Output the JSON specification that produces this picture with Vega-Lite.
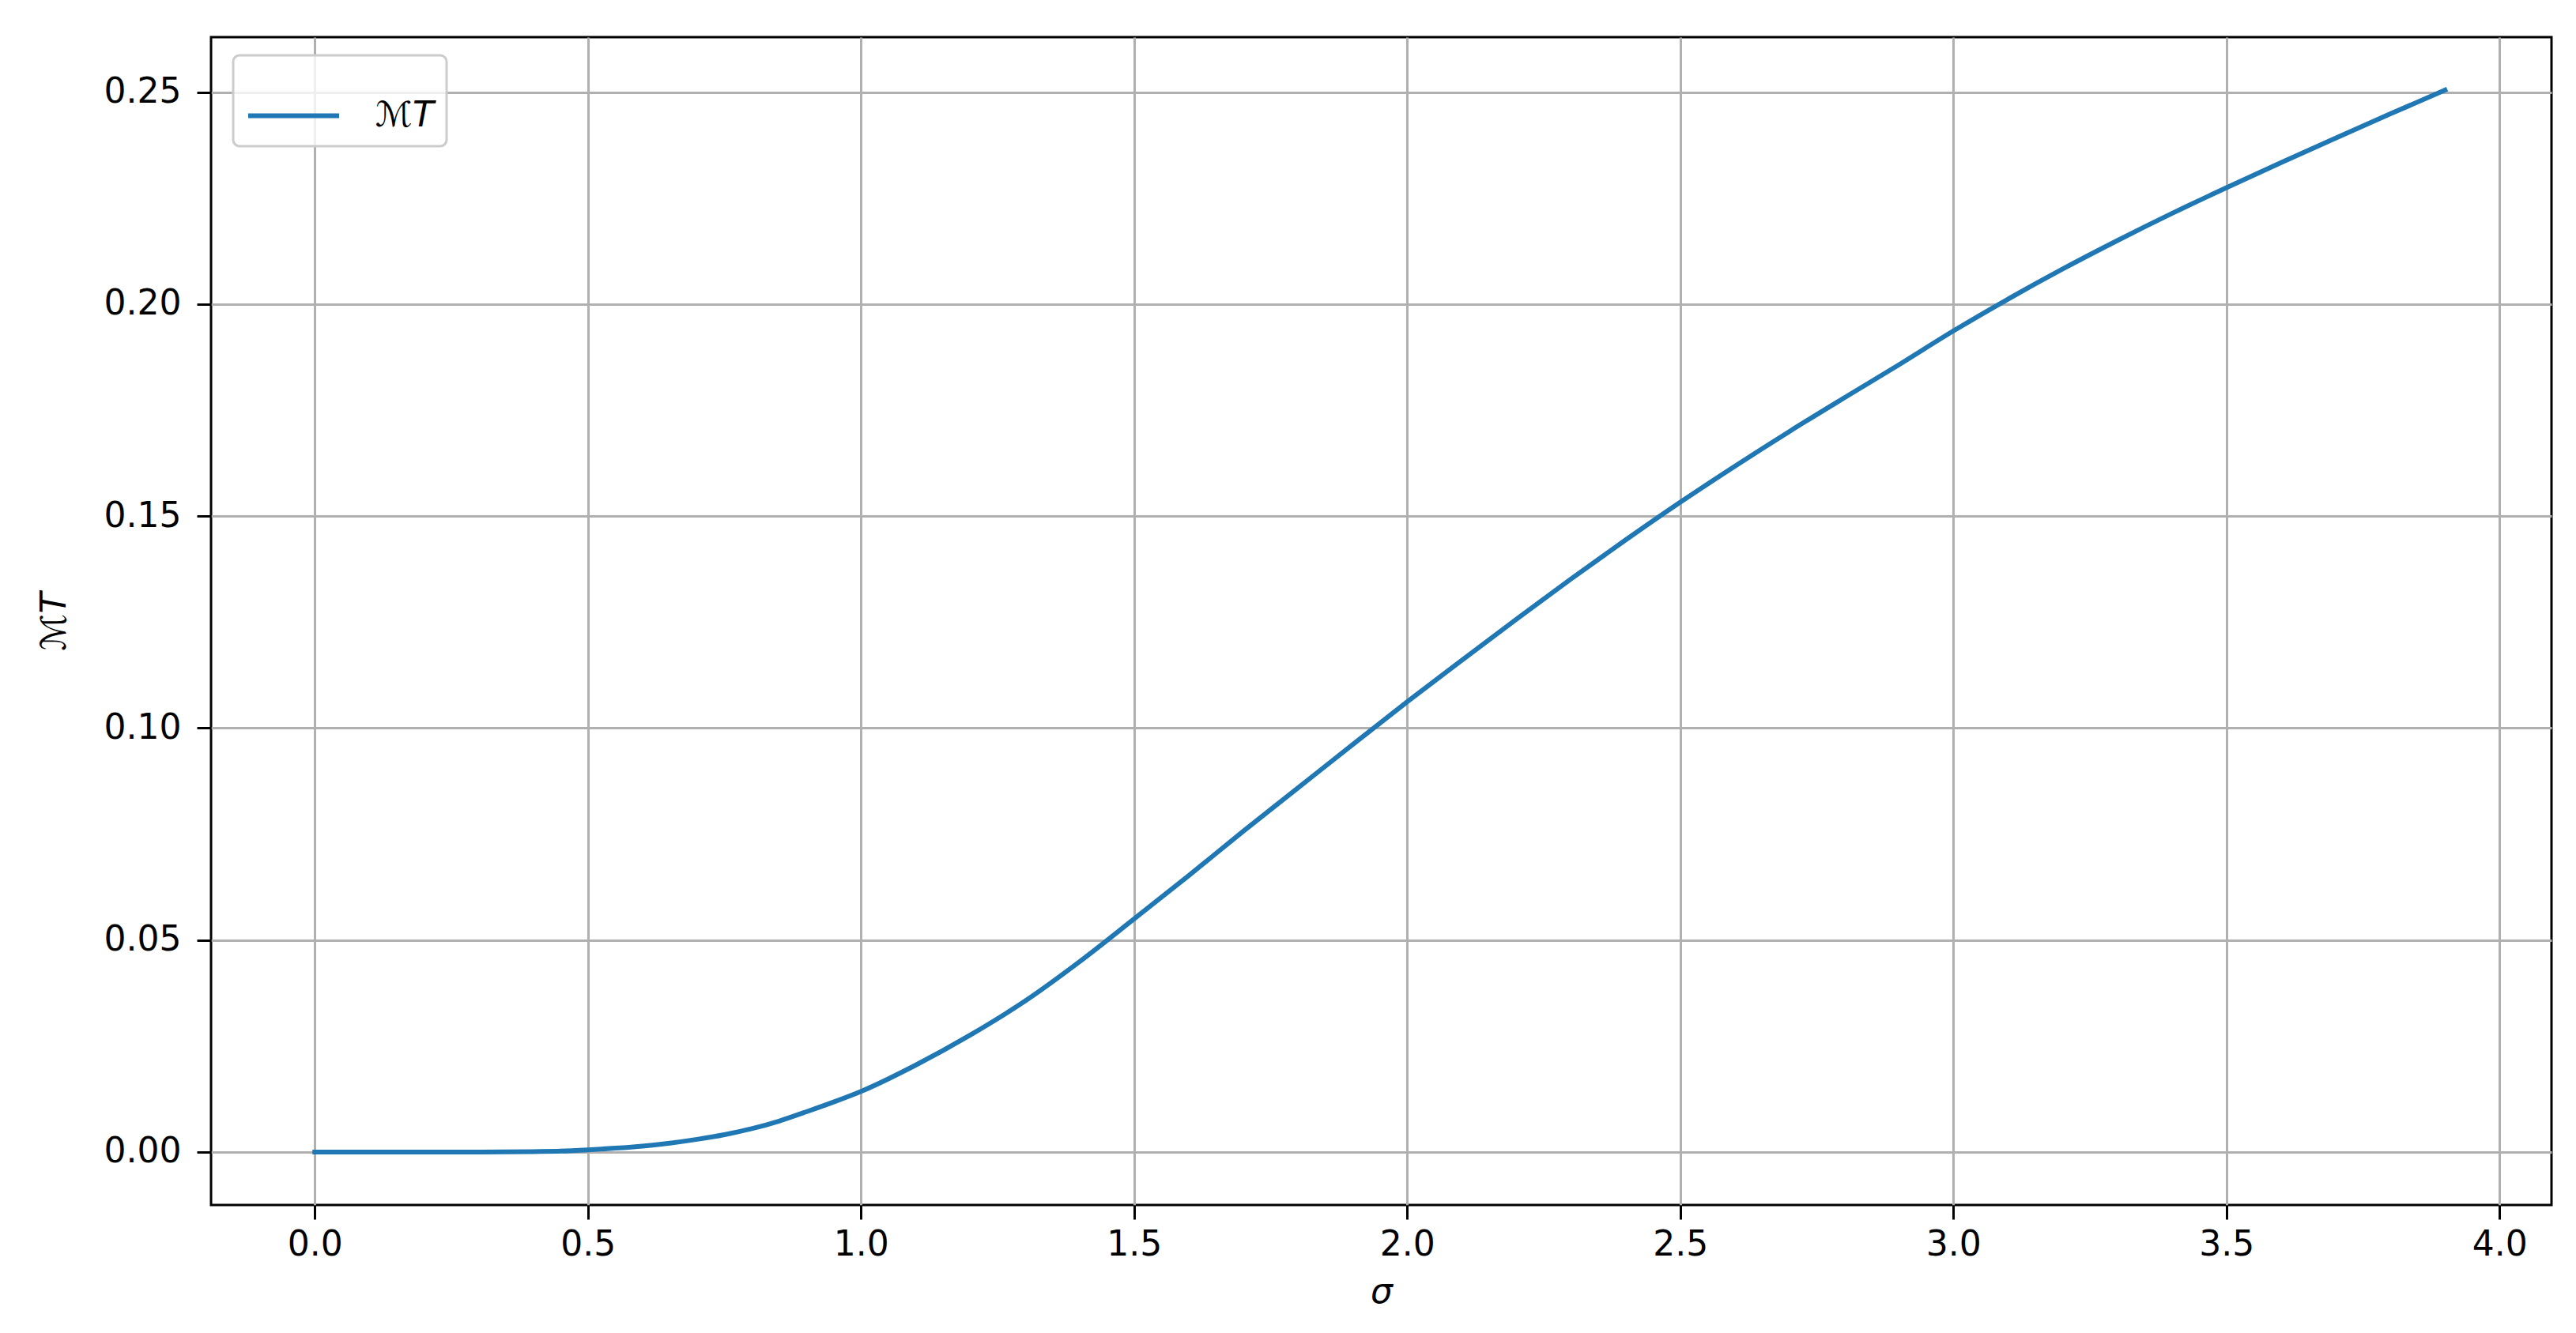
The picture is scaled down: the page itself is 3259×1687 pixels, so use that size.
{
  "$schema": "https://vega.github.io/schema/vega-lite/v6.json",
  "width": 2961,
  "height": 1478,
  "autosize": {"type": "none"},
  "padding": {"left": 267, "top": 47, "right": 31, "bottom": 162},
  "background": "white",
  "config": {
    "view": {"stroke": "black", "strokeWidth": 3},
    "font": "DejaVu Sans",
    "axis": {
      "grid": true,
      "gridColor": "#b0b0b0",
      "gridWidth": 3,
      "domain": false,
      "ticks": true,
      "tickColor": "black",
      "tickSize": 18,
      "tickWidth": 3,
      "labelFont": "DejaVu Sans",
      "labelFontSize": 44,
      "labelColor": "black",
      "titleFont": "DejaVu Sans",
      "titleFontSize": 44,
      "titleFontStyle": "italic",
      "titleFontWeight": "normal",
      "titleColor": "black"
    }
  },
  "data": {
    "values": [
      {"sigma": 0.0, "M": 0.0},
      {"sigma": 0.1, "M": 0.0},
      {"sigma": 0.2, "M": 0.0},
      {"sigma": 0.3, "M": 0.0},
      {"sigma": 0.4, "M": 0.0001},
      {"sigma": 0.45, "M": 0.0002},
      {"sigma": 0.5, "M": 0.0005},
      {"sigma": 0.55, "M": 0.0009},
      {"sigma": 0.6, "M": 0.0014},
      {"sigma": 0.65, "M": 0.0021},
      {"sigma": 0.7, "M": 0.003},
      {"sigma": 0.75, "M": 0.0041},
      {"sigma": 0.8, "M": 0.0055},
      {"sigma": 0.85, "M": 0.0073},
      {"sigma": 0.9, "M": 0.0095},
      {"sigma": 0.95, "M": 0.0118},
      {"sigma": 1.0, "M": 0.0143},
      {"sigma": 1.1, "M": 0.0205},
      {"sigma": 1.2, "M": 0.0276},
      {"sigma": 1.3, "M": 0.0356},
      {"sigma": 1.4, "M": 0.0449},
      {"sigma": 1.5, "M": 0.055},
      {"sigma": 1.6, "M": 0.0652},
      {"sigma": 1.7, "M": 0.0757},
      {"sigma": 1.8, "M": 0.0859},
      {"sigma": 1.9, "M": 0.0961},
      {"sigma": 2.0, "M": 0.1062},
      {"sigma": 2.1, "M": 0.116},
      {"sigma": 2.2, "M": 0.1257},
      {"sigma": 2.3, "M": 0.1352},
      {"sigma": 2.4, "M": 0.1444},
      {"sigma": 2.5, "M": 0.1533},
      {"sigma": 2.6, "M": 0.1618},
      {"sigma": 2.7, "M": 0.17},
      {"sigma": 2.8, "M": 0.1779},
      {"sigma": 2.9, "M": 0.1857},
      {"sigma": 3.0, "M": 0.1937},
      {"sigma": 3.1, "M": 0.2012},
      {"sigma": 3.2, "M": 0.2083},
      {"sigma": 3.3, "M": 0.215},
      {"sigma": 3.4, "M": 0.2214},
      {"sigma": 3.5, "M": 0.2275},
      {"sigma": 3.6, "M": 0.2334},
      {"sigma": 3.7, "M": 0.2392},
      {"sigma": 3.8, "M": 0.2449},
      {"sigma": 3.9, "M": 0.2505}
    ]
  },
  "mark": {"type": "line", "strokeWidth": 6, "strokeCap": "square", "interpolate": "monotone"},
  "encoding": {
    "x": {
      "field": "sigma",
      "type": "quantitative",
      "title": "σ",
      "scale": {"domain": [-0.19, 4.095], "nice": false, "zero": false},
      "axis": {
        "values": [0, 0.5, 1, 1.5, 2, 2.5, 3, 3.5, 4],
        "format": ".1f",
        "labelPadding": 10,
        "titlePadding": 16
      }
    },
    "y": {
      "field": "M",
      "type": "quantitative",
      "title": "ℳT",
      "scale": {"domain": [-0.0125, 0.263], "nice": false, "zero": false},
      "axis": {
        "values": [0, 0.05, 0.1, 0.15, 0.2, 0.25],
        "format": ".2f",
        "labelPadding": 20,
        "titlePadding": 40
      }
    },
    "color": {
      "datum": "ℳT",
      "type": "nominal",
      "scale": {"range": ["#1f77b4"]},
      "legend": {
        "title": null,
        "orient": "none",
        "legendX": 28,
        "legendY": 23,
        "symbolType": "stroke",
        "symbolSize": 13225,
        "symbolStrokeWidth": 6,
        "labelFont": "DejaVu Sans",
        "labelFontSize": 44,
        "labelFontStyle": "italic",
        "labelColor": "black",
        "labelOffset": 43,
        "padding": 16,
        "fillColor": "rgba(255,255,255,0.8)",
        "strokeColor": "#cccccc",
        "cornerRadius": 8,
        "encode": {"legend": {"update": {"strokeWidth": {"value": 3}}}}
      }
    }
  }
}
